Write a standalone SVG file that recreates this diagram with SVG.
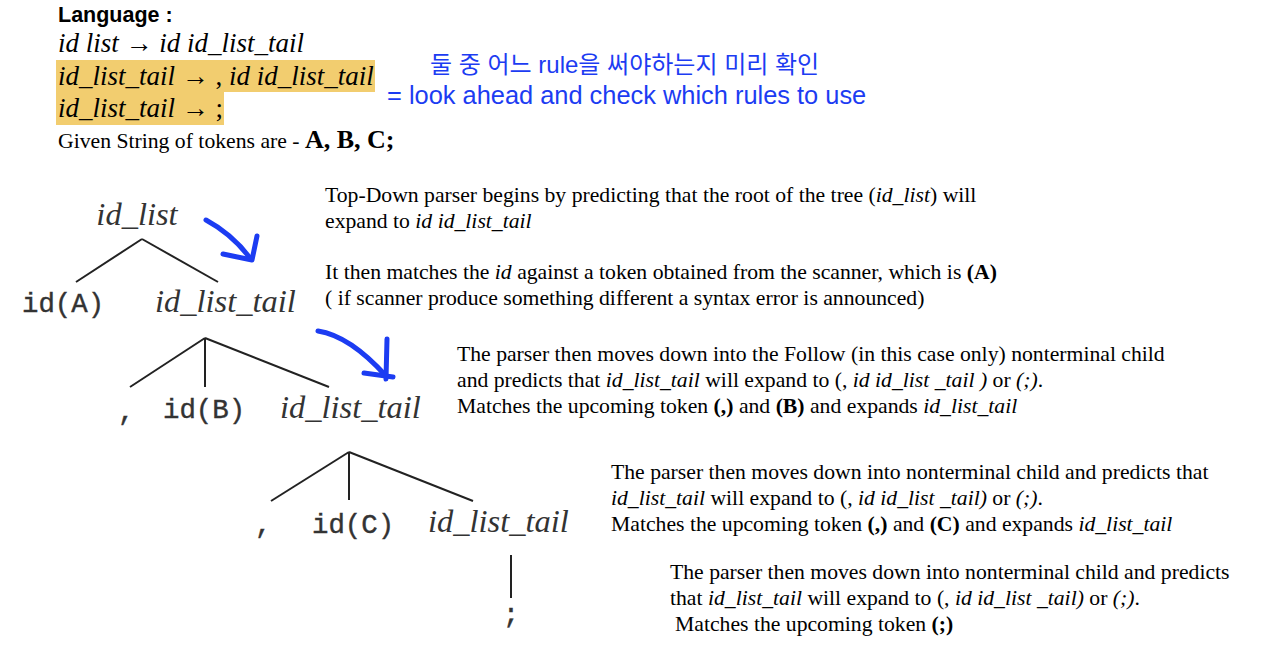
<svg xmlns="http://www.w3.org/2000/svg" width="1286" height="672" viewBox="0 0 1286 672">
<style>
.bg{fill:#ffffff}
.hl{fill:#f2cd6f}
.gram{font-family:"Liberation Serif",serif;font-style:italic;font-size:27px;fill:#000}
.lab{font-family:"Liberation Sans",sans-serif;font-weight:bold;font-size:21.5px;fill:#000}
.body{font-family:"Liberation Serif",serif;font-size:21.7px;fill:#000}
.it{font-style:italic}
.b{font-weight:bold}
.blue{font-family:"Liberation Sans","Noto Sans CJK KR",sans-serif;fill:#1c3cf2}
.nt{font-family:"Liberation Serif",serif;font-style:italic;font-size:32.5px;fill:#333}
.tm{font-family:"Liberation Mono",monospace;font-size:27.4px;fill:#333;stroke:#333;stroke-width:0.4}
.edge{stroke:#222;stroke-width:2;fill:none}
.pen{stroke:#1c3cf2;stroke-width:5;fill:none;stroke-linecap:round;stroke-linejoin:round}
</style>
<rect class="bg" x="0" y="0" width="1286" height="672"/>

<g id="grammar">
<rect class="hl" x="56" y="60" width="319" height="32"/>
<rect class="hl" x="56" y="92" width="168" height="33"/>
<text class="lab" x="58" y="22">Language :</text>
<text class="gram" x="58" y="52">id list → id id_list_tail</text>
<text class="gram" x="58" y="85">id_list_tail → <tspan font-style="normal">,</tspan> id id_list_tail</text>
<text class="gram" x="58" y="117">id_list_tail → <tspan font-style="normal">;</tspan></text>
<text class="body" x="58" y="148">Given String of tokens are - <tspan class="b" font-size="26">A, B, C;</tspan></text>
</g>

<g id="note">
<text class="blue" x="430" y="73" font-size="24">둘 중 어느 rule을 써야하는지 미리 확인</text>
<text class="blue" x="387" y="104" font-size="25.4">= look ahead and check which rules to use</text>
</g>

<g id="node-id_list"><text class="nt" x="137" y="225" text-anchor="middle">id_list</text></g>
<g id="node-idA"><text class="tm" x="22" y="312">id(A)</text></g>
<g id="node-tail1"><text class="nt" x="155" y="312">id_list_tail</text></g>
<g id="node-comma1"><text class="tm" x="118" y="420">,</text></g>
<g id="node-idB"><text class="tm" x="163" y="418">id(B)</text></g>
<g id="node-tail2"><text class="nt" x="280" y="418">id_list_tail</text></g>
<g id="node-comma2"><text class="tm" x="255" y="533">,</text></g>
<g id="node-idC"><text class="tm" x="312" y="533">id(C)</text></g>
<g id="node-tail3"><text class="nt" x="428" y="532">id_list_tail</text></g>
<g id="node-semi"><text class="tm" x="511" y="623" text-anchor="middle">;</text></g>

<g id="connectors">
<line class="edge" x1="142" y1="239" x2="76" y2="282"/>
<line class="edge" x1="142" y1="239" x2="218" y2="282"/>
<line class="edge" x1="205" y1="338" x2="130" y2="387"/>
<line class="edge" x1="205" y1="338" x2="205" y2="387"/>
<line class="edge" x1="205" y1="338" x2="329" y2="387"/>
<line class="edge" x1="349" y1="452" x2="271" y2="501"/>
<line class="edge" x1="349" y1="452" x2="349" y2="500"/>
<line class="edge" x1="349" y1="452" x2="473" y2="501"/>
<line class="edge" x1="511" y1="555" x2="511" y2="598"/>
</g>

<g id="pen-arrows">
<path class="pen" d="M206 220 Q232 234 250 258"/>
<path class="pen" d="M257 236 L252 260 L223 254"/>
<path class="pen" d="M318 331 Q350 336 386 376"/>
<path class="pen" d="M387 339 L386 379"/>
<path class="pen" d="M364 373 L393 377"/>
</g>

<g id="text1">
<text class="body" x="325" y="202">Top-Down parser begins by predicting that the root of the tree (<tspan class="it">id_list</tspan>) will</text>
<text class="body" x="325" y="228">expand to <tspan class="it">id id_list_tail</tspan></text>
<text class="body" x="325" y="279">It then matches the <tspan class="it">id</tspan> against a token obtained from the scanner, which is <tspan class="b">(A)</tspan></text>
<text class="body" x="325" y="305">( if scanner produce something different a syntax error is announced)</text>
</g>

<g id="text2">
<text class="body" x="457" y="361">The parser then moves down into the Follow (in this case only) nonterminal child</text>
<text class="body" x="457" y="387">and predicts that <tspan class="it">id_list_tail</tspan> will expand to (, <tspan class="it">id id_list _tail )</tspan> or <tspan class="it">(;)</tspan>.</text>
<text class="body" x="457" y="413">Matches the upcoming token <tspan class="b">(,)</tspan> and <tspan class="b">(B)</tspan> and expands <tspan class="it">id_list_tail</tspan></text>
</g>

<g id="text3">
<text class="body" x="611" y="479">The parser then moves down into nonterminal child and predicts that</text>
<text class="body" x="611" y="505"><tspan class="it">id_list_tail</tspan> will expand to (, <tspan class="it">id id_list _tail)</tspan> or <tspan class="it">(;)</tspan>.</text>
<text class="body" x="611" y="531">Matches the upcoming token <tspan class="b">(,)</tspan> and <tspan class="b">(C)</tspan> and expands <tspan class="it">id_list_tail</tspan></text>
</g>

<g id="text4">
<text class="body" x="670" y="579">The parser then moves down into nonterminal child and predicts</text>
<text class="body" x="670" y="605">that <tspan class="it">id_list_tail</tspan> will expand to (, <tspan class="it">id id_list _tail)</tspan> or <tspan class="it">(;)</tspan>.</text>
<text class="body" x="675" y="631">Matches the upcoming token <tspan class="b">(;)</tspan></text>
</g>
</svg>
